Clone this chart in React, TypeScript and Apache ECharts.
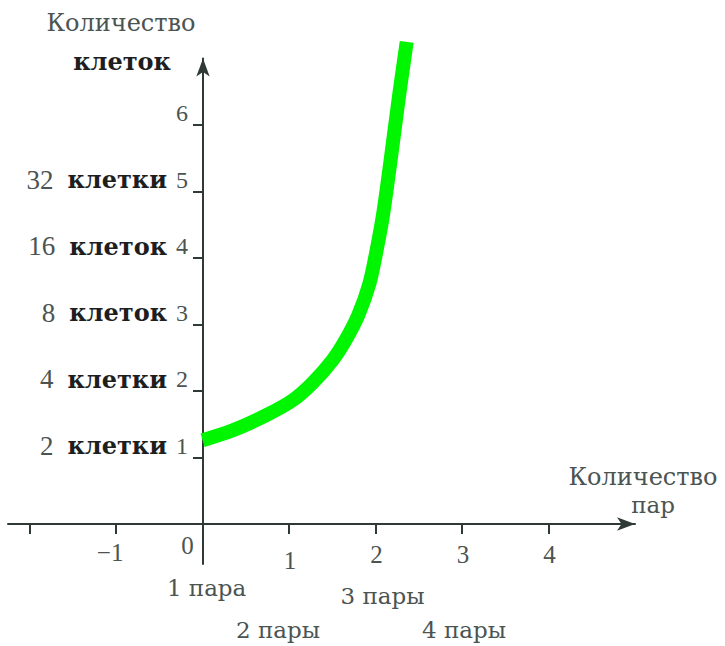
import React, { useEffect, useRef } from "react";
import * as echarts from "echarts";

// Curve: number of pairs (x) vs cells (y, log2 scale)
const pairsX = [0, 0.35, 0.74, 1.04, 1.27, 1.5, 1.65, 1.8, 1.93, 2.02, 2.09, 2.17, 2.27, 2.36];
const cellsY = [1.26, 1.41, 1.64, 1.86, 2.12, 2.46, 2.76, 3.14, 3.62, 4.17, 4.68, 5.43, 6.42, 7.25];

// x axis ticks and labels
const xTickValues = [-2, -1, 0, 1, 2, 3, 4];
const xLabelValues = [-1, 0, 1, 2, 3, 4];
const xLabelTexts = ["−1", "0", "1", "2", "3", "4"];

// pair-count captions under the axis (two staggered rows)
const pairRow1Values = [0, 2];
const pairRow1Texts = ["1 пара", "3 пары"];
const pairRow2Values = [1, 3];
const pairRow2Texts = ["2 пары", "4 пары"];

// y axis ticks and labels
const yTickValues = [1, 2, 3, 4, 5, 6];
const cellCounts = ["2", "4", "8", "16", "32", ""];
const cellWords = ["клетки", "клетки", "клеток", "клеток", "клетки", ""];

const GRAY = "#4b5451";
const DARK = "#1e1e1e";
const AXIS = "#2f3a37";

export default function App() {
  const ref = useRef<HTMLDivElement>(null);

  useEffect(() => {
    if (!ref.current) return;
    const chart = echarts.init(ref.current, null, { renderer: "svg" });

    const xLabelStyle = (v: number) => (v === -1 ? "a" : v === 0 ? "z" : v === 1 ? "o" : "m");

    const pairAxis = (values: number[], texts: string[], styles: string[], margin: number, rich: any) => ({
      type: "value",
      min: -2.25,
      max: 5,
      position: "bottom",
      axisLine: { show: false, onZero: false },
      axisTick: { show: false },
      axisLabel: {
        show: true,
        hideOverlap: false,
        showMinLabel: true,
        showMaxLabel: true,
        customValues: values,
        margin,
        formatter: (v: number) => {
          const i = values.indexOf(v);
          if (i < 0) return "";
          return "{" + styles[i] + "|" + texts[i] + "}";
        },
        rich,
      },
      splitLine: { show: false },
    });

    const pStyle = { fontFamily: "DejaVu Serif", fontSize: 23, color: GRAY, lineHeight: 28 };

    const option: any = {
      animation: false,
      grid: { left: 8, right: 90, top: 58.5, bottom: 82, containLabel: false, outerBoundsMode: "none" },
      xAxis: [
        {
          type: "value",
          min: -2.25,
          max: 5,
          position: "bottom",
          offset: -40,
          axisLine: {
            show: true,
            onZero: false,
            symbol: ["none", "arrow"],
            symbolSize: [10, 18],
            lineStyle: { color: AXIS, width: 2 },
          },
          axisTick: {
            show: true,
            customValues: xTickValues,
            length: 10,
            lineStyle: { color: AXIS, width: 2 },
          },
          axisLabel: {
            show: true,
            hideOverlap: false,
            showMinLabel: true,
            showMaxLabel: true,
            customValues: xLabelValues,
            margin: 9,
            formatter: (v: number) => {
              const i = xLabelValues.indexOf(v);
              if (i < 0) return "";
              return "{" + xLabelStyle(v) + "|" + xLabelTexts[i] + "}";
            },
            rich: {
              a: { fontFamily: "Liberation Serif", fontSize: 25, color: GRAY, lineHeight: 24, padding: [14, 12, 0, 0] },
              z: { fontFamily: "Liberation Serif", fontSize: 25, color: GRAY, lineHeight: 24, padding: [0, 30, 0, 0] },
              o: { fontFamily: "Liberation Serif", fontSize: 25, color: GRAY, lineHeight: 24, padding: [30, 0, 0, 2] },
              m: { fontFamily: "Liberation Serif", fontSize: 25, color: GRAY, lineHeight: 24, padding: [18, 0, 0, 2] },
            },
          },
          splitLine: { show: false },
        },
        pairAxis(pairRow1Values, pairRow1Texts, ["p0", "p2"], 10, {
          p0: { ...pStyle, padding: [0, 0, 0, 8] },
          p2: { ...pStyle, padding: [16, 0, 0, 14] },
        }),
        pairAxis(pairRow2Values, pairRow2Texts, ["p1", "p3"], 52, {
          p1: { ...pStyle, padding: [0, 22, 0, 0] },
          p3: { ...pStyle, padding: [0, 0, 0, 4] },
        }),
      ],
      yAxis: {
        type: "value",
        min: -0.6,
        max: 7,
        position: "left",
        offset: -195,
        axisLine: {
          show: true,
          onZero: false,
          symbol: ["none", "arrow"],
          symbolSize: [10, 18],
          lineStyle: { color: AXIS, width: 2 },
        },
        axisTick: {
          show: true,
          customValues: yTickValues,
          length: 10,
          lineStyle: { color: AXIS, width: 2 },
        },
        axisLabel: {
          show: true,
          hideOverlap: false,
          customValues: yTickValues,
          margin: 15,
          verticalAlign: "bottom",
          formatter: (v: number) => {
            const i = yTickValues.indexOf(v);
            if (i < 0) return "";
            let s = "";
            if (cellCounts[i]) s += "{n|" + cellCounts[i] + "}";
            if (cellWords[i]) s += "{w|" + cellWords[i] + "}";
            s += "{d|" + String(v) + "}";
            return s;
          },
          rich: {
            n: { fontFamily: "Liberation Serif", fontSize: 27, color: GRAY, lineHeight: 24, padding: [0, 14, 0, 0] },
            w: { fontFamily: "DejaVu Serif", fontWeight: "bold", fontSize: 24, color: DARK, lineHeight: 24, padding: [0, 9, 0, 0] },
            d: { fontFamily: "Liberation Serif", fontSize: 24, color: GRAY, lineHeight: 24 },
          },
        },
        splitLine: { show: false },
      },
      graphic: [
        {
          type: "text",
          x: 121,
          y: 23,
          style: { text: "Количество", fontFamily: "DejaVu Serif", fontSize: 24, fill: GRAY, align: "center", verticalAlign: "middle" },
        },
        {
          type: "text",
          x: 122,
          y: 61,
          style: { text: "клеток", fontFamily: "DejaVu Serif", fontWeight: "bold", fontSize: 24, fill: DARK, align: "center", verticalAlign: "middle" },
        },
        {
          type: "text",
          x: 643,
          y: 477,
          style: { text: "Количество", fontFamily: "DejaVu Serif", fontSize: 24, fill: GRAY, align: "center", verticalAlign: "middle" },
        },
        {
          type: "text",
          x: 653,
          y: 505,
          style: { text: "пар", fontFamily: "DejaVu Serif", fontSize: 23, fill: GRAY, align: "center", verticalAlign: "middle" },
        },
      ],
      series: [
        {
          type: "line",
          xAxisIndex: 0,
          data: pairsX.map((x, i) => [x, cellsY[i]]),
          smooth: 0.3,
          showSymbol: false,
          symbol: "none",
          clip: false,
          lineStyle: { color: "#00f500", width: 14, cap: "butt" },
          silent: true,
        },
      ],
    };

    chart.setOption(option);
    return () => chart.dispose();
  }, []);

  return (
    <div
      ref={ref}
      style={{ position: "absolute", left: 0, top: 0, width: 725, height: 646, background: "#fff" }}
    />
  );
}
